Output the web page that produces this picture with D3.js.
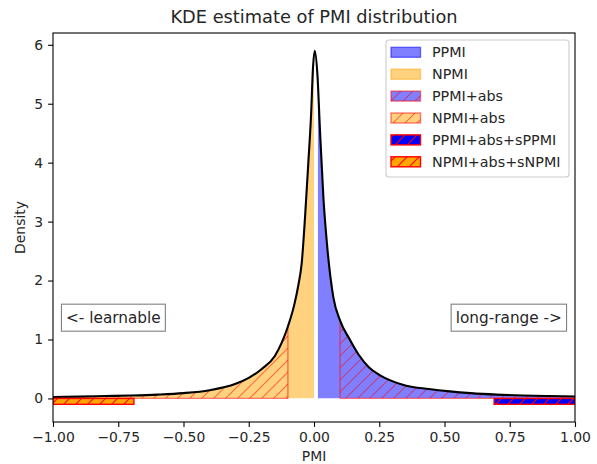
<!DOCTYPE html>
<html><head><meta charset="utf-8">
<script src="https://cdn.jsdelivr.net/npm/d3@7"></script>
<style>body{margin:0;background:#fff;} svg{display:block;font-family:"DejaVu Sans",sans-serif;}</style>
</head><body>
<svg id="c" width="597" height="464"></svg>
<script>
// ---- data ----
const pmi = [-1, -0.9, -0.8, -0.7, -0.6, -0.5, -0.4, -0.3, -0.25, -0.2, -0.15, -0.1, -0.075, -0.06, -0.047, -0.034, -0.022, -0.011, -0.004, 0.003, 0.013, 0.023, 0.036, 0.051, 0.074, 0.1, 0.137, 0.17, 0.21, 0.25, 0.29, 0.35, 0.44, 0.52, 0.6, 0.7, 0.8, 0.9, 1.0];
const density = [0.025, 0.03, 0.04, 0.05, 0.065, 0.09, 0.14, 0.25, 0.35, 0.5, 0.72, 1.22, 1.6, 1.92, 2.3, 3.1, 3.98, 4.83, 5.6, 5.9, 5.5, 4.54, 3.41, 2.56, 1.72, 1.32, 1.0, 0.75, 0.53, 0.4, 0.31, 0.22, 0.16, 0.12, 0.09, 0.065, 0.05, 0.04, 0.032];
const regionNames = ["PPMI", "NPMI", "PPMI+abs", "NPMI+abs", "PPMI+abs+sPPMI", "NPMI+abs+sNPMI"];
const regionFrom = [0.015, -0.1, 0.1, -1.0, 0.69, -1.0];
const regionTo = [0.1, 0.0, 1.0, -0.1, 1.0, -0.69];
const barBottom = -0.1;
const xTicks = [-1, -0.75, -0.5, -0.25, 0, 0.25, 0.5, 0.75, 1];
const yTicks = [0, 1, 2, 3, 4, 5, 6];
const title = "KDE estimate of PMI distribution";
const xLabel = "PMI", yLabel = "Density";
const leftNote = "<- learnable", rightNote = "long-range ->";

// ---- styles ----
const styles = {
  "PPMI": {kind: "area", fill: "#0000ff", op: 0.5, hatch: false},
  "NPMI": {kind: "area", fill: "#ffa500", op: 0.5, hatch: false},
  "PPMI+abs": {kind: "area", fill: "#0000ff", op: 0.5, hatch: true},
  "NPMI+abs": {kind: "area", fill: "#ffa500", op: 0.5, hatch: true},
  "PPMI+abs+sPPMI": {kind: "bar", fill: "#0000ff", op: 1, hatch: true},
  "NPMI+abs+sNPMI": {kind: "bar", fill: "#ffa500", op: 1, hatch: true}
};

const svg = d3.select("#c");
const L = 53, R = 575, T = 33, B = 422;
const x = d3.scaleLinear().domain([-1, 1]).range([L, R]);
const y = d3.scaleLinear().domain([-0.4, 6.2]).range([B, T]);
const pts = pmi.map((p, i) => [p, density[i]]);

const defs = svg.append("defs");
function hatch(id, op) {
  const s = 12;
  const p = defs.append("pattern").attr("id", id).attr("patternUnits", "userSpaceOnUse")
    .attr("width", s).attr("height", s);
  const g = p.append("g").attr("stroke", "red").attr("stroke-width", 1.1).attr("stroke-opacity", op);
  g.append("line").attr("x1", 0).attr("y1", s).attr("x2", s).attr("y2", 0);
  g.append("line").attr("x1", -s).attr("y1", s).attr("x2", 0).attr("y2", 0);
  g.append("line").attr("x1", s).attr("y1", s).attr("x2", 2 * s).attr("y2", 0);
}
hatch("hSoft", 0.5);
hatch("hHard", 1);

defs.append("clipPath").attr("id", "axclip").append("rect")
  .attr("x", L).attr("y", T).attr("width", R - L).attr("height", B - T);

const area = d3.area().x(d => x(d[0])).y0(y(0)).y1(d => y(d[1])).curve(d3.curveMonotoneX);
const line = d3.line().x(d => x(d[0])).y(d => y(d[1])).curve(d3.curveMonotoneX);

const plot = svg.append("g").attr("clip-path", "url(#axclip)");

regionNames.forEach((name, i) => {
  const st = styles[name];
  const x0 = regionFrom[i], x1 = regionTo[i];
  if (st.kind === "area") {
    const cid = "clip" + i;
    defs.append("clipPath").attr("id", cid).append("rect")
      .attr("x", x(x0)).attr("y", 0).attr("width", x(x1) - x(x0)).attr("height", y(0));
    const g = plot.append("g").attr("clip-path", `url(#${cid})`);
    g.append("path").attr("d", area(pts)).attr("fill", st.fill).attr("fill-opacity", st.op);
    if (st.hatch) {
      g.append("path").attr("d", area(pts)).attr("fill", "url(#hSoft)");
      const edgeG = plot.append("g").attr("stroke", "red").attr("stroke-opacity", 0.5).attr("stroke-width", 1.4);
      edgeG.append("line").attr("x1", x(x0)).attr("x2", x(x1)).attr("y1", y(0)).attr("y2", y(0));
      [x0, x1].forEach(b => {
        const k = pmi.indexOf(b);
        if (k > 0 && k < pmi.length - 1) {
          edgeG.append("line").attr("x1", x(b)).attr("x2", x(b)).attr("y1", y(0)).attr("y2", y(density[k]));
        }
      });
    }
  }
});

// curve
plot.append("path").attr("d", line(pts)).attr("fill", "none").attr("stroke", "black").attr("stroke-width", 2.1);

// bars
regionNames.forEach((name, i) => {
  const st = styles[name];
  if (st.kind !== "bar") return;
  const x0 = regionFrom[i], x1 = regionTo[i];
  const r = plot.append("g");
  r.append("rect").attr("x", x(x0)).attr("y", y(0)).attr("width", x(x1) - x(x0)).attr("height", y(barBottom) - y(0))
    .attr("fill", st.fill);
  r.append("rect").attr("x", x(x0)).attr("y", y(0)).attr("width", x(x1) - x(x0)).attr("height", y(barBottom) - y(0))
    .attr("fill", "url(#hHard)").attr("stroke", "red").attr("stroke-width", 1.4);
});

// axes
const fs = 13.9;
const xAxis = svg.append("g").attr("transform", `translate(0,${B})`)
  .call(d3.axisBottom(x).tickValues(xTicks).tickFormat(d3.format(".2f")).tickSize(4.9).tickPadding(4.9));
const yAxis = svg.append("g").attr("transform", `translate(${L},0)`)
  .call(d3.axisLeft(y).tickValues(yTicks).tickFormat(d3.format("d")).tickSize(4.9).tickPadding(4.9));
[xAxis, yAxis].forEach(a => {
  a.select(".domain").remove();
  a.selectAll("line").attr("stroke", "black").attr("stroke-width", 1.1);
  a.selectAll("text").attr("font-size", fs).attr("fill", "#262626").attr("font-family", "DejaVu Sans");
});
svg.append("rect").attr("x", L).attr("y", T).attr("width", R - L).attr("height", B - T)
  .attr("fill", "none").attr("stroke", "black").attr("stroke-width", 1.1);

// labels
svg.append("text").attr("x", (L + R) / 2).attr("y", 23).attr("text-anchor", "middle")
  .attr("font-size", 17.8).attr("fill", "#262626").text(title);
svg.append("text").attr("x", (L + R) / 2).attr("y", 461).attr("text-anchor", "middle")
  .attr("font-size", fs).attr("fill", "#262626").text(xLabel);
svg.append("text").attr("transform", `translate(25,${(T + B) / 2}) rotate(-90)`).attr("text-anchor", "middle")
  .attr("font-size", fs).attr("fill", "#262626").text(yLabel);

// notes
function note(txt, px, anchor) {
  const g = svg.append("g");
  const t = g.append("text").attr("x", x(px)).attr("y", y(1.37)).attr("dy", "0.35em")
    .attr("text-anchor", anchor).attr("font-size", 15.3).attr("fill", "#262626").text(txt);
  const bb = t.node().getBBox();
  const pad = 4.6;
  g.insert("rect", "text").attr("x", bb.x - pad).attr("y", y(1.37) - 13.5).attr("width", bb.width + 2 * pad)
    .attr("height", 27).attr("fill", "white").attr("stroke", "#808080").attr("stroke-width", 1.1);
}
note(leftNote, -0.95, "start");
note(rightNote, 0.95, "end");

// legend
const lg = svg.append("g");
lg.append("rect").attr("x", 386).attr("y", 40).attr("width", 183).attr("height", 137).attr("rx", 3)
  .attr("fill", "white").attr("fill-opacity", 0.8).attr("stroke", "#cccccc").attr("stroke-width", 1.1);
regionNames.forEach((name, i) => {
  const st = styles[name];
  const cy = 52.3 + i * 21.9;
  const gx = 391, gw = 29.5, gh = 10;
  lg.append("rect").attr("x", gx).attr("y", cy - gh / 2).attr("width", gw).attr("height", gh)
    .attr("fill", st.fill).attr("fill-opacity", st.op)
    .attr("stroke", st.hatch ? "red" : st.fill).attr("stroke-opacity", st.kind === "bar" ? 1 : 0.5).attr("stroke-width", 1.4);
  if (st.hatch) {
    lg.append("rect").attr("x", gx).attr("y", cy - gh / 2).attr("width", gw).attr("height", gh)
      .attr("fill", st.kind === "bar" ? "url(#hHard)" : "url(#hSoft)");
  }
  lg.append("text").attr("x", 432).attr("y", cy).attr("dy", "0.35em").attr("font-size", 14.3)
    .attr("fill", "#262626").text(name);
});
</script>
</body></html>
